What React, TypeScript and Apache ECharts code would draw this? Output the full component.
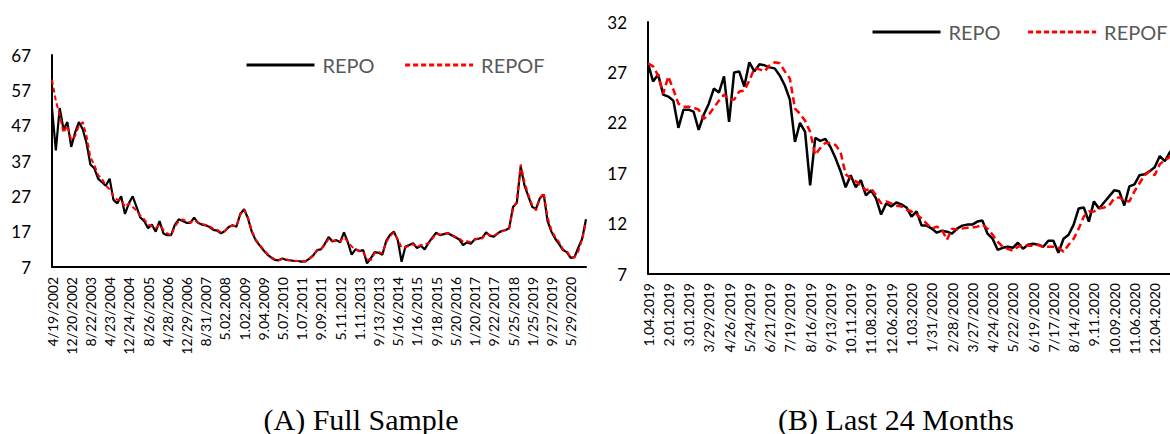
import React, { useEffect, useRef } from "react";
import * as echarts from "echarts";

// ---------- Panel A: full sample (sampled every 7 weeks) ----------
const tickLabelsA = [
  "4/19/2002", "12/20/2002", "8/22/2003", "4/23/2004", "12/24/2004", "8/26/2005",
  "4/28/2006", "12/29/2006", "8/31/2007", "5.02.2008", "1.02.2009", "9.04.2009",
  "5.07.2010", "1.07.2011", "9.09.2011", "5.11.2012", "1.11.2013", "9/13/2013",
  "5/16/2014", "1/16/2015", "9/18/2015", "5/20/2016", "1/20/2017", "9/22/2017",
  "5/25/2018", "1/25/2019", "9/27/2019", "5/29/2020",
];

const repoA = [
  52, 40, 52, 46, 48, 41, 45, 48, 46, 42,
  36, 35, 32, 31, 30, 32, 26, 25, 27, 22,
  25, 27, 24, 21, 20, 18, 19, 17, 20, 16.5,
  16, 16, 19, 20.5, 20, 19.5, 19.5, 21, 19.5, 19,
  18.8, 18.3, 17.5, 17.3, 16.5, 17.2, 18.3, 18.8, 18.4, 22,
  23.4, 20.8, 17, 14.6, 13.2, 11.8, 10.6, 9.7, 9, 8.9,
  9.4, 9, 8.9, 8.7, 8.7, 8.5, 8.6, 9.4, 10.3, 11.8,
  12, 13.5, 15.5, 14.2, 14.6, 14, 16.8, 14, 10.5, 12,
  11.5, 11.8, 8, 9.5, 11.2, 11, 10.5, 14.4, 16.1, 17,
  14.6, 8.5, 12.8, 13.2, 13.7, 12.4, 13, 12, 13.8, 15.3,
  16.7, 16, 16.3, 16.6, 16, 15.4, 14.8, 13.2, 14, 13.6,
  14.8, 15, 15.3, 16.8, 15.8, 15.6, 16.5, 17.2, 17.4, 18,
  24, 25.2, 35.5, 30, 27, 24, 23.5, 26.5, 27.5, 20,
  17, 15, 13.5, 11.8, 11.2, 9.6, 9.8, 12.5, 15, 20.5,
];

const repofA = [
  60, 54, 50, 45, 47, 43, 44, 47, 48, 44,
  38, 36, 33, 32, 30, 29, 27, 26, 26, 24,
  25, 24, 23, 21.5, 20.5, 19, 18.5, 18, 19, 17.5,
  16.5, 16, 18.5, 20, 20.5, 20, 19.5, 20.3, 19.6, 19.2,
  18.9, 18.5, 17.8, 17.5, 16.8, 17.2, 18.3, 18.7, 18.6, 21.8,
  23.2, 21, 17.3, 14.8, 13.4, 12, 10.8, 9.8, 9.2, 8.9,
  9.3, 9.1, 8.9, 8.8, 8.7, 8.6, 8.6, 9.3, 10.2, 11.6,
  12.1, 13.2, 15, 14.4, 14.5, 14.3, 15.5, 14.2, 12.8, 12,
  11.6, 11.2, 9.2, 9, 11, 11.3, 10.8, 14, 15.8, 16.8,
  14.8, 12.5, 12.6, 13, 13.5, 12.6, 13.2, 13.4, 13.7, 15,
  16.4, 16.2, 16.3, 16.6, 16.1, 15.6, 15.1, 14.2, 14.3, 14,
  14.7, 15.2, 15.1, 16.5, 16, 15.9, 16.4, 17, 17.5, 17.8,
  23.5, 25.5, 36, 31, 27.5, 24.5, 23, 26.5, 28, 21,
  17.5, 15.5, 14, 12, 11.5, 9.8, 9.7, 11.5, 14.8, 19.8,
];

const yTicksA = [7, 17, 27, 37, 47, 57, 67];

// ---------- Panel B: last 24 months (weekly) ----------
const tickLabelsB = [
  "1.04.2019", "2.01.2019", "3.01.2019", "3/29/2019", "4/26/2019", "5/24/2019",
  "6/21/2019", "7/19/2019", "8/16/2019", "9/13/2019", "10.11.2019", "11.08.2019",
  "12.06.2019", "1.03.2020", "1/31/2020", "2/28/2020", "3/27/2020", "4/24/2020",
  "5/22/2020", "6/19/2020", "7/17/2020", "8/14/2020", "9.11.2020", "10.09.2020",
  "11.06.2020", "12.04.2020", "1.01.2021",
];

const repoB = [
  27.9, 26.1, 26.8, 24.8, 24.6, 24.2, 21.5, 23.3, 23.3, 23.1,
  21.3, 22.8, 23.9, 25.4, 25.0, 26.6, 22.1, 27.0, 27.1, 25.6,
  28.0, 27.1, 27.8, 27.7, 27.5, 27.4, 26.7, 25.7, 24.3, 20.1,
  22.0, 21.1, 15.8, 20.5, 20.2, 20.4, 19.6, 18.5, 17.2, 15.6,
  16.8, 15.6, 16.3, 14.8, 15.3, 14.5, 12.9, 14.0, 13.7, 14.1,
  13.9, 13.6, 12.7, 13.2, 11.8, 11.8, 11.5, 11.1, 11.3, 11.2,
  11.0, 11.5, 11.8, 11.9, 11.9, 12.2, 12.3, 11.0, 10.5, 9.4,
  9.6, 9.7, 9.6, 10.1, 9.5, 9.9, 10.0, 9.9, 9.7, 10.3,
  10.3, 9.1, 10.5, 10.9, 11.9, 13.5, 13.6, 12.2, 14.2, 13.5,
  14.1, 14.7, 15.3, 15.2, 13.8, 15.7, 15.9, 16.8, 16.9, 17.2,
  17.6, 18.7, 18.2, 19.1, 19.6,
];

const repofB = [
  27.9, 27.6, 26.7, 24.9, 26.6, 25.3, 23.9, 23.6, 23.6, 23.5,
  23.3, 22.4, 22.8, 23.5, 24.2, 24.8, 24.3, 24.3, 25.1, 25.2,
  26.2, 27.4, 27.3, 27.1, 27.7, 28.0, 27.9, 27.1, 26.4, 23.4,
  22.9, 22.2, 21.1, 18.8, 19.5, 20.0, 20.0, 19.8, 19.1, 16.9,
  16.5, 16.2, 15.8, 15.3, 15.5, 14.8, 14.0, 14.2, 14.0, 13.8,
  13.7, 13.4, 13.2, 12.9, 12.5, 12.0, 11.5, 11.7, 11.4, 10.4,
  11.5, 11.4, 11.5, 11.6, 11.6, 11.7, 11.9, 11.5, 10.9, 10.2,
  9.7, 9.5, 9.3, 9.7, 9.9, 9.8, 9.8, 9.9, 9.7, 9.7,
  9.7, 9.6, 9.2, 9.9, 10.5, 11.5, 12.7, 13.2, 13.2, 13.5,
  13.6, 13.8, 14.5, 14.6, 14.3, 14.2, 15.2, 16.0, 16.8, 17.2,
  16.8, 17.9, 18.3, 18.6, 19.2,
];

const yTicksB = [7, 12, 17, 22, 27, 32];

const seriesNames = ["REPO", "REPOF"];
const captions = ["(A) Full Sample", "(B) Last 24 Months"];

const FONT = 'Lato, "Open Sans", sans-serif';

function buildCategories(labels: string[], perLabel: number, total: number): string[] {
  const out: string[] = [];
  labels.forEach((l) => {
    out.push(l);
    for (let k = 1; k < perLabel; k++) out.push("");
  });
  return out.slice(0, total);
}

export default function App() {
  const ref = useRef<HTMLDivElement>(null);

  useEffect(() => {
    document.body.style.margin = "0";
    const chart = echarts.init(ref.current!, null, { renderer: "svg" });
    const catsA = buildCategories(tickLabelsA, 5, repoA.length);
    const catsB = buildCategories(tickLabelsB, 4, repoB.length);

    const axisLine = { show: true, lineStyle: { color: "#000", width: 2 } };
    const legendCommon = {
      data: seriesNames,
      orient: "horizontal",
      padding: 0,
      itemWidth: 68,
      itemHeight: 14,
      lineStyle: { width: 3 },
      itemStyle: { opacity: 0, borderWidth: 0 },
      textStyle: { fontFamily: FONT, fontSize: 20, color: "#595959", padding: [0, 0, 0, 3] },
      selectedMode: false,
    };

    chart.setOption({
      animation: false,
      backgroundColor: "#ffffff",
      legend: [
        { ...legendCommon, left: 245, top: 55, itemGap: 29 },
        { ...legendCommon, left: 871, top: 22, itemGap: 26 },
      ],
      grid: [
        { left: 52, top: 55, width: 534, height: 212 },
        { left: 648, top: 22, width: 527, height: 252 },
      ],
      xAxis: [
        {
          type: "category",
          gridIndex: 0,
          data: catsA,
          boundaryGap: false,
          axisLine,
          axisTick: { show: false },
          axisLabel: { interval: 4, rotate: 90, fontFamily: FONT, fontSize: 14, color: "#000", margin: 10 },
        },
        {
          type: "category",
          gridIndex: 1,
          data: catsB,
          boundaryGap: false,
          axisLine,
          axisTick: { show: false },
          axisLabel: { interval: 3, rotate: 90, fontFamily: FONT, fontSize: 14, color: "#000", margin: 9 },
        },
      ],
      yAxis: [
        {
          type: "value",
          gridIndex: 0,
          min: 7,
          max: 67,
          axisLine,
          axisTick: { show: false },
          splitLine: { show: false },
          axisLabel: { customValues: yTicksA, fontFamily: FONT, fontSize: 17, color: "#000", margin: 21 },
        },
        {
          type: "value",
          gridIndex: 1,
          min: 7,
          max: 32,
          axisLine,
          axisTick: { show: false },
          splitLine: { show: false },
          axisLabel: { customValues: yTicksB, fontFamily: FONT, fontSize: 17, color: "#000", margin: 21 },
        },
      ],
      series: [
        {
          name: seriesNames[0], type: "line", xAxisIndex: 0, yAxisIndex: 0, data: repoA,
          symbol: "none", itemStyle: { color: "#000" }, lineStyle: { color: "#000", width: 2.2 }, z: 2,
        },
        {
          name: seriesNames[1], type: "line", xAxisIndex: 0, yAxisIndex: 0, data: repofA,
          symbol: "none", itemStyle: { color: "#ff0000" },
          lineStyle: { color: "#ff0000", width: 2, type: [5, 3] }, z: 3,
        },
        {
          name: seriesNames[0], type: "line", xAxisIndex: 1, yAxisIndex: 1, data: repoB,
          symbol: "none", itemStyle: { color: "#000" }, lineStyle: { color: "#000", width: 2.5 }, z: 2,
        },
        {
          name: seriesNames[1], type: "line", xAxisIndex: 1, yAxisIndex: 1, data: repofB,
          symbol: "none", itemStyle: { color: "#ff0000" },
          lineStyle: { color: "#ff0000", width: 2.5, type: [7, 4] }, z: 3,
        },
      ],
      graphic: [
        {
          type: "text", x: 361, y: 419,
          style: { text: captions[0], font: '30px "Liberation Serif"', fill: "#000", align: "center", verticalAlign: "middle" },
        },
        {
          type: "text", x: 896, y: 419,
          style: { text: captions[1], font: '30px "Liberation Serif"', fill: "#000", align: "center", verticalAlign: "middle" },
        },
      ],
    });
    return () => chart.dispose();
  }, []);

  // The right panel runs past the visible frame, as in the reference, so the
  // drawing surface is wider than the 1170px window and clipped by the wrapper.
  return (
    <div style={{ width: 1170, height: 434, overflow: "hidden" }}>
      <div ref={ref} style={{ width: 1200, height: 434 }} />
    </div>
  );
}
